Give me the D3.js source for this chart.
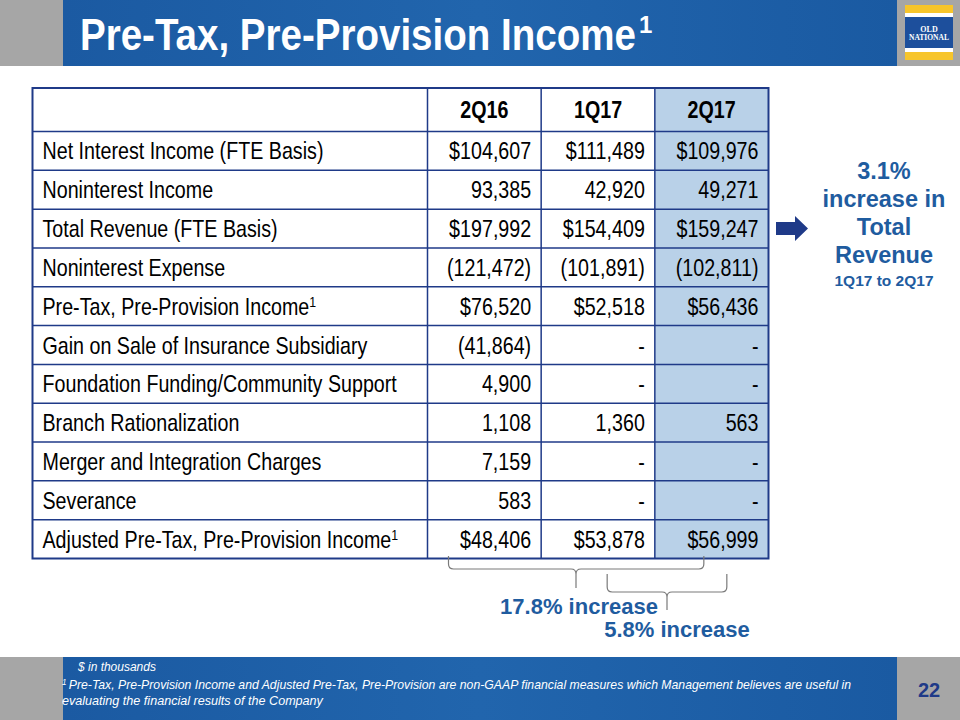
<!DOCTYPE html>
<html>
<head>
<meta charset="utf-8">
<script src="https://cdn.jsdelivr.net/npm/d3@7"></script>
<style>
  html, body { margin: 0; padding: 0; background: #fff; }
  svg { display: block; }
</style>
</head>
<body>
<svg id="chart" width="960" height="720"></svg>
<script>
// ---------- data ----------
const title = "Pre-Tax, Pre-Provision Income";
const columns = ["2Q16", "1Q17", "2Q17"];
const rowLabels = [
  "Net Interest Income (FTE Basis)",
  "Noninterest Income",
  "Total Revenue (FTE Basis)",
  "Noninterest Expense",
  "Pre-Tax, Pre-Provision Income",
  "Gain on Sale of Insurance Subsidiary",
  "Foundation Funding/Community Support",
  "Branch Rationalization",
  "Merger and Integration Charges",
  "Severance",
  "Adjusted Pre-Tax, Pre-Provision Income"
];
const values2Q16 = [104607, 93385, 197992, -121472, 76520, -41864, 4900, 1108, 7159, 583, 48406];
const values1Q17 = [111489, 42920, 154409, -101891, 52518, null, null, 1360, null, null, 53878];
const values2Q17 = [109976, 49271, 159247, -102811, 56436, null, null, 563, null, null, 56999];
const dollarRows = [0, 2, 4, 10];
const footnoteRows = [4, 10];
const revenueNote = ["3.1%", "increase in", "Total", "Revenue"];
const revenueSub = "1Q17 to 2Q17";
const increaseNotes = [
  { from: "2Q16", to: "2Q17", text: "17.8% increase" },
  { from: "1Q17", to: "2Q17", text: "5.8% increase" }
];
const unitsNote = "$ in thousands";
const footnote1 = "Pre-Tax, Pre-Provision Income and Adjusted Pre-Tax, Pre-Provision are non-GAAP financial measures which Management believes are useful in";
const footnote2 = "evaluating the financial results of the Company";
const pageNumber = "22";

// ---------- setup ----------
const svg = d3.select("#chart");
const FONT = "'Liberation Sans', Arial, Helvetica, sans-serif";
const GRAY = "#a6a6a6";
const NAVY = "#1f3a88";
const TEXT_BLUE = "#1f5c9f";
const NARROW = 0.82;   // emulate a narrow face by horizontal scaling

function fitWidth(sel, x0, y0, target) {
  const w = sel.node().getComputedTextLength();
  const s = Math.min(1, target / w);
  sel.attr("x", 0).attr("y", 0)
     .attr("transform", `translate(${x0},${y0}) scale(${s},1)`);
  return w * s;
}

// ---------- header ----------
svg.append("rect").attr("x", 0).attr("y", 0).attr("width", 960).attr("height", 66).attr("fill", GRAY);
const hg = svg.append("defs").append("linearGradient").attr("id", "band").attr("x1", 0).attr("x2", 1);
hg.append("stop").attr("offset", 0).attr("stop-color", "#1b5aa2");
hg.append("stop").attr("offset", 0.5).attr("stop-color", "#2165ad");
hg.append("stop").attr("offset", 1).attr("stop-color", "#1a5aa2");
svg.append("rect").attr("x", 63).attr("y", 0).attr("width", 834).attr("height", 66).attr("fill", "url(#band)");

const titleText = svg.append("text")
  .attr("font-family", FONT).attr("font-weight", "bold").attr("font-size", 44)
  .attr("fill", "#fff")
  .text(title);
const titleW = fitWidth(titleText, 80, 50, 556);
svg.append("text")
  .attr("x", 80 + titleW + 3).attr("y", 33)
  .attr("font-family", FONT).attr("font-weight", "bold").attr("font-size", 24)
  .attr("fill", "#fff").text("1");

// logo
const logo = svg.append("g").attr("transform", "translate(905,5)");
logo.append("rect").attr("width", 48).attr("height", 55).attr("fill", "#fff");
logo.append("rect").attr("width", 48).attr("height", 8).attr("fill", "#f7c52b");
logo.append("rect").attr("y", 47).attr("width", 48).attr("height", 8).attr("fill", "#f7c52b");
logo.append("rect").attr("y", 12).attr("width", 48).attr("height", 31).attr("fill", "#1d4f9c");
logo.append("text").attr("x", 24).attr("y", 27).attr("text-anchor", "middle")
  .attr("font-family", "'Liberation Serif', serif").attr("font-weight", "bold").attr("font-size", 8)
  .attr("fill", "#fff").text("OLD");
logo.append("text").attr("x", 24).attr("y", 35).attr("text-anchor", "middle")
  .attr("font-family", "'Liberation Serif', serif").attr("font-weight", "bold").attr("font-size", 8)
  .attr("fill", "#fff").attr("textLength", 40).attr("lengthAdjust", "spacingAndGlyphs").text("NATIONAL");

// ---------- table ----------
const tableLeft = 32.5, labelRight = 427.5, tableRight = 768.5;
const headerTop = 88, headerBottom = 131.5, tableBottom = 558.5;

const x = d3.scaleBand().domain(columns).range([labelRight, tableRight]);
const y = d3.scaleBand().domain(d3.range(rowLabels.length)).range([headerBottom, tableBottom]);

const colValues = { "2Q16": values2Q16, "1Q17": values1Q17, "2Q17": values2Q17 };
const fmt = d3.format(",");
function formatCell(v, i) {
  if (v === null) return "-";
  if (v < 0) return "(" + fmt(-v) + ")";
  return (dollarRows.includes(i) ? "$" : "") + fmt(v);
}

const table = svg.append("g");
table.append("rect")
  .attr("x", x("2Q17")).attr("y", headerTop)
  .attr("width", x.bandwidth()).attr("height", tableBottom - headerTop)
  .attr("fill", "#b9d1e8");

const TFS = 24;          // table font size
const BASE = 8.5;        // baseline offset from row centre

table.selectAll("text.colhead").data(columns).join("text")
  .attr("class", "colhead")
  .attr("transform", d => `translate(${x(d) + x.bandwidth() / 2},${(headerTop + headerBottom) / 2 + BASE}) scale(${NARROW},1)`)
  .attr("text-anchor", "middle")
  .attr("font-family", FONT).attr("font-weight", "bold").attr("font-size", TFS)
  .attr("fill", "#000").text(d => d);

const labels = table.selectAll("text.rowlabel").data(rowLabels).join("text")
  .attr("class", "rowlabel")
  .attr("transform", (d, i) => `translate(${tableLeft + 10},${y(i) + y.bandwidth() / 2 + BASE}) scale(${NARROW},1)`)
  .attr("font-family", FONT).attr("font-size", TFS).attr("fill", "#000");
labels.append("tspan").text(d => d);
labels.filter((d, i) => footnoteRows.includes(i))
  .append("tspan").attr("font-size", 15).attr("dy", -8).text("1");

columns.forEach(c => {
  table.selectAll("text.val-" + c).data(colValues[c]).join("text")
    .attr("class", "val-" + c)
    .attr("transform", (d, i) => `translate(${x(c) + x.bandwidth() - 10},${y(i) + y.bandwidth() / 2 + BASE}) scale(${NARROW},1)`)
    .attr("text-anchor", "end")
    .attr("font-family", FONT).attr("font-size", TFS).attr("fill", "#000")
    .text((d, i) => formatCell(d, i));
});

const gridColor = NAVY;
const hLines = [headerBottom].concat(d3.range(1, rowLabels.length).map(i => y(i)));
table.selectAll("line.h").data(hLines).join("line")
  .attr("x1", tableLeft).attr("x2", tableRight)
  .attr("y1", d => d).attr("y2", d => d)
  .attr("stroke", gridColor).attr("stroke-width", 1.5);
const vLines = [labelRight].concat(columns.slice(1).map(c => x(c)));
table.selectAll("line.v").data(vLines).join("line")
  .attr("x1", d => d).attr("x2", d => d)
  .attr("y1", headerTop).attr("y2", tableBottom)
  .attr("stroke", gridColor).attr("stroke-width", 1.5);
table.append("rect")
  .attr("x", tableLeft).attr("y", headerTop)
  .attr("width", tableRight - tableLeft).attr("height", tableBottom - headerTop)
  .attr("fill", "none").attr("stroke", gridColor).attr("stroke-width", 2);

// ---------- right side note ----------
const arrowY = y(2) + y.bandwidth() / 2;
svg.append("path")
  .attr("d", `M776,${arrowY - 6.5} L795,${arrowY - 6.5} L795,${arrowY - 12.5} L808,${arrowY} L795,${arrowY + 12.5} L795,${arrowY + 6.5} L776,${arrowY + 6.5} Z`)
  .attr("fill", NAVY);

const noteX = 884;
const noteBaselines = [179, 207, 235, 263];
svg.selectAll("text.note").data(revenueNote).join("text")
  .attr("class", "note")
  .attr("x", noteX).attr("y", (d, i) => noteBaselines[i])
  .attr("text-anchor", "middle")
  .attr("font-family", FONT).attr("font-weight", "bold").attr("font-size", 23.5)
  .attr("fill", TEXT_BLUE).text(d => d);
svg.append("text")
  .attr("x", noteX).attr("y", 286).attr("text-anchor", "middle")
  .attr("font-family", FONT).attr("font-weight", "bold").attr("font-size", 15.5)
  .attr("fill", TEXT_BLUE).text(revenueSub);

// ---------- braces ----------
function bracePath(x1, x2, top, mid, tip, tipX) {
  const r = 5;
  return `M${x1},${top} L${x1},${mid - r} Q${x1},${mid} ${x1 + r},${mid}` +
         ` L${tipX - r},${mid} Q${tipX},${mid} ${tipX},${mid + r} L${tipX},${tip}` +
         ` M${tipX},${mid + r} Q${tipX},${mid} ${tipX + r},${mid} L${x2 - r},${mid} Q${x2},${mid} ${x2},${mid - r} L${x2},${top}`;
}
const braceSpecs = [
  { x1: x(increaseNotes[0].from) + 21, x2: x(increaseNotes[0].to) + 49, top: 556, mid: 569, tip: 588, tipX: 576 },
  { x1: x(increaseNotes[1].from) + 66, x2: x(increaseNotes[1].to) + 72, top: 574, mid: 592, tip: 610, tipX: 667 }
];
svg.selectAll("path.brace").data(braceSpecs).join("path")
  .attr("class", "brace")
  .attr("d", d => bracePath(d.x1, d.x2, d.top, d.mid, d.tip, d.tipX))
  .attr("fill", "none").attr("stroke", "#7a7a7a").attr("stroke-width", 1.2);

const incPos = [{ x: 579, y: 614 }, { x: 677, y: 637 }];
svg.selectAll("text.inc").data(increaseNotes).join("text")
  .attr("class", "inc")
  .attr("x", (d, i) => incPos[i].x).attr("y", (d, i) => incPos[i].y)
  .attr("text-anchor", "middle")
  .attr("font-family", FONT).attr("font-weight", "bold").attr("font-size", 22)
  .attr("fill", TEXT_BLUE).text(d => d.text);

// ---------- footer ----------
svg.append("rect").attr("x", 0).attr("y", 657).attr("width", 960).attr("height", 63).attr("fill", GRAY);
svg.append("rect").attr("x", 63).attr("y", 657).attr("width", 834).attr("height", 63).attr("fill", "url(#band)");

const units = svg.append("text")
  .attr("font-family", FONT).attr("font-style", "italic").attr("font-size", 13.5)
  .attr("fill", "#fff").text(unitsNote);
fitWidth(units, 78, 671, 78);
const fn1 = svg.append("text")
  .attr("font-family", FONT).attr("font-style", "italic").attr("font-size", 13.5)
  .attr("fill", "#fff");
fn1.append("tspan").attr("font-size", 9).attr("dy", -4).text("1 ");
fn1.append("tspan").attr("dy", 4).text(footnote1);
fitWidth(fn1, 62, 689, 790);
const fn2 = svg.append("text")
  .attr("font-family", FONT).attr("font-style", "italic").attr("font-size", 13.5)
  .attr("fill", "#fff")
  .text(footnote2);
fitWidth(fn2, 62, 705, 261);

svg.append("text")
  .attr("x", 929).attr("y", 697).attr("text-anchor", "middle")
  .attr("font-family", FONT).attr("font-weight", "bold").attr("font-size", 20)
  .attr("fill", NAVY).text(pageNumber);
</script>
</body>
</html>
